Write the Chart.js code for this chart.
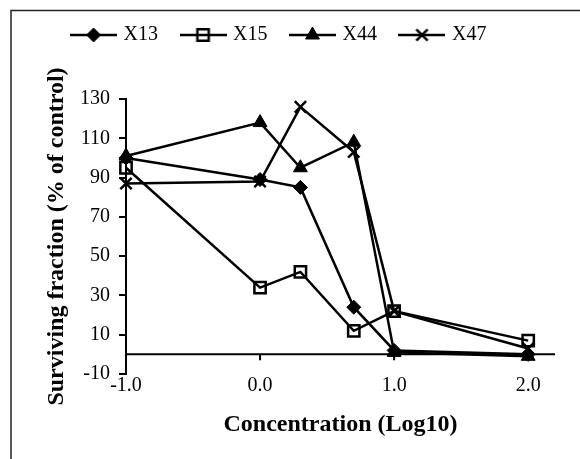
<!DOCTYPE html>
<html>
<head>
<meta charset="utf-8">
<script src="https://cdn.jsdelivr.net/npm/chart.js"></script>
<style>
  body { margin: 0; background: #fff; }
  #wrap { width: 580px; height: 459px; }
</style>
</head>
<body>
<div id="wrap"><canvas id="chart" width="580" height="459"></canvas></div>
<script>
// log10 of concentration (0.1, 1, 2, 5, 10, 100)
const concentrations = [-1.0, 0.0, 0.301, 0.699, 1.0, 2.0];
const seriesNames = ["X13", "X15", "X44", "X47"];
const x13 = [100, 89, 85, 24, 2, 0];
const x15 = [95, 34, 42, 12, 22, 7];
const x44 = [101, 118, 95, 108, 1, -1];
const x47 = [87, 88, 126, 103, 22, 3];
const xTicks = [-1, 0, 1, 2];
const yTicks = [-10, 10, 30, 50, 70, 90, 110, 130];

const serif = "'Liberation Serif', 'Times New Roman', serif";
const markers = [
  { style: "rectRot", radius: 7, fill: "#000", border: 1 },
  { style: "rect", radius: 8, fill: "rgba(0,0,0,0)", border: 2.5 },
  { style: "triangle", radius: 8, fill: "#000", border: 1 },
  { style: "crossRot", radius: 8, fill: "#000", border: 2.5 },
];

// legend icon: short line with the marker in the middle
function legendIcon(m) {
  const c = document.createElement("canvas");
  c.width = 47;
  c.height = 20;
  const g = c.getContext("2d");
  g.strokeStyle = "#000";
  g.lineWidth = 2.5;
  g.beginPath();
  g.moveTo(0, 10);
  g.lineTo(47, 10);
  g.stroke();
  const cx = 23.5, cy = 10, r = m.radius;
  g.fillStyle = m.fill;
  g.lineWidth = m.border;
  g.beginPath();
  if (m.style === "rectRot") {
    g.moveTo(cx - r, cy); g.lineTo(cx, cy - r); g.lineTo(cx + r, cy); g.lineTo(cx, cy + r);
    g.closePath(); g.fill(); g.stroke();
  } else if (m.style === "rect") {
    const s = r * Math.SQRT1_2;
    g.rect(cx - s, cy - s, 2 * s, 2 * s);
    g.stroke();
  } else if (m.style === "triangle") {
    g.moveTo(cx, cy - r);
    g.lineTo(cx + 0.866 * r, cy + 0.5 * r);
    g.lineTo(cx - 0.866 * r, cy + 0.5 * r);
    g.closePath(); g.fill(); g.stroke();
  } else {
    const s = r * Math.SQRT1_2;
    g.moveTo(cx - s, cy - s); g.lineTo(cx + s, cy + s);
    g.moveTo(cx + s, cy - s); g.lineTo(cx - s, cy + s);
    g.stroke();
  }
  return c;
}

const icons = markers.map(legendIcon);

const frame = {
  id: "frame",
  beforeLayout(chart) {
    const lg = chart.legend;
    if (lg && !lg._patched) {
      const fit = lg.fit;
      lg.fit = function () { fit.call(this); this.height = 99; };
      lg._patched = true;
    }
  },
  beforeDraw(chart) {
    const ctx = chart.ctx;
    ctx.save();
    ctx.fillStyle = "#fff";
    ctx.fillRect(0, 0, chart.width, chart.height);
    ctx.strokeStyle = "#222";
    ctx.lineWidth = 1.5;
    ctx.strokeRect(11, 10.5, chart.width, chart.height);
    ctx.restore();
  },
  beforeDatasetsDraw(chart) {
    const { ctx, chartArea, scales } = chart;
    const y0 = scales.y.getPixelForValue(0);
    ctx.save();
    ctx.strokeStyle = "#000";
    ctx.lineWidth = 2;
    ctx.beginPath();
    ctx.moveTo(chartArea.left, y0);
    ctx.lineTo(chartArea.right, y0);
    xTicks.forEach((v) => {
      const px = scales.x.getPixelForValue(v);
      ctx.moveTo(px, y0);
      ctx.lineTo(px, y0 + 6);
    });
    ctx.stroke();
    ctx.restore();
  },
};

const allSeries = [x13, x15, x44, x47];
const datasets = allSeries.map((vals, i) => ({
  label: seriesNames[i],
  data: concentrations.map((c, j) => ({ x: c, y: vals[j] })),
  borderColor: "#000",
  borderWidth: 2.5,
  tension: 0,
  clip: false,
  pointStyle: markers[i].style,
  pointRadius: markers[i].radius,
  pointHoverRadius: markers[i].radius,
  pointBackgroundColor: markers[i].fill,
  pointBorderColor: "#000",
  pointBorderWidth: markers[i].border,
}));

new Chart(document.getElementById("chart"), {
  type: "line",
  data: { datasets },
  plugins: [frame],
  options: {
    responsive: false,
    animation: false,
    layout: { padding: { left: 5, right: 25, top: 0, bottom: 0 } },
    plugins: {
      tooltip: { enabled: false },
      legend: {
        position: "top",
        align: "center",
        labels: {
          usePointStyle: true,
          pointStyleWidth: 40,
          padding: 25,
          color: "#000",
          font: { family: serif, size: 20 },
          generateLabels: (chart) =>
            chart.data.datasets.map((ds, i) => ({
              text: ds.label,
              pointStyle: icons[i],
              fillStyle: "#000",
              strokeStyle: "#000",
              lineWidth: 0,
              hidden: false,
              datasetIndex: i,
            })),
        },
      },
    },
    scales: {
      x: {
        type: "linear",
        min: -1,
        max: 2.2,
        afterBuildTicks: (scale) => { scale.ticks = xTicks.map((v) => ({ value: v })); },
        afterFit: (scale) => { scale.height = 85; },
        border: { display: false },
        grid: { display: false, drawTicks: false },
        ticks: {
          color: "#000",
          padding: 0,
          font: { family: serif, size: 20 },
          callback: (v) => Number(v).toFixed(1),
        },
        title: {
          display: true,
          text: "Concentration (Log10)",
          color: "#000",
          font: { family: serif, size: 24, weight: "bold" },
          padding: { top: 0, bottom: 20 },
        },
      },
      y: {
        min: -10,
        max: 130,
        afterBuildTicks: (scale) => { scale.ticks = yTicks.map((v) => ({ value: v })); },
        afterFit: (scale) => { scale.width = 121; },
        border: { display: true, color: "#000", width: 2 },
        grid: { drawOnChartArea: false, drawTicks: true, tickLength: 7, tickColor: "#000", lineWidth: 2 },
        ticks: {
          color: "#000",
          padding: 9,
          font: { family: serif, size: 20 },
        },
        title: {
          display: true,
          text: "Surviving fraction (% of control)",
          color: "#000",
          font: { family: serif, size: 24, weight: "bold" },
          padding: { top: 37, bottom: 0 },
        },
      },
    },
  },
});
</script>
</body>
</html>
